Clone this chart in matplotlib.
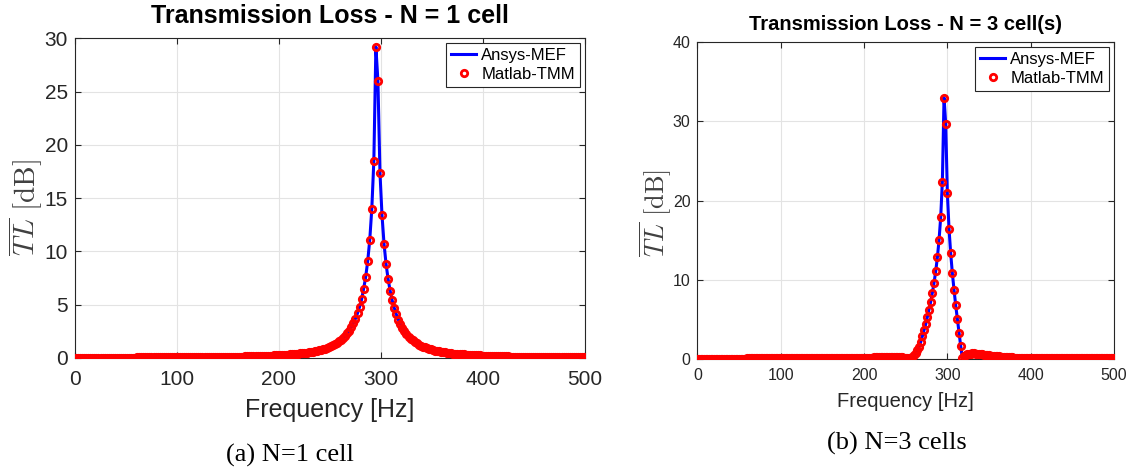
import numpy as np
import matplotlib.pyplot as plt

plt.rcParams['font.family'] = ['Liberation Sans', 'DejaVu Sans']
plt.rcParams['mathtext.fontset'] = 'cm'

# frequency grids [Hz]
freq_1 = np.arange(1, 500, 2)
freq_3 = np.arange(0, 501, 2)

# TL [dB], N = 1 cell
tl_1 = [
    0.03, 0.03, 0.03, 0.03, 0.03, 0.03, 0.03, 0.03, 0.03, 0.03,
    0.03, 0.03, 0.03, 0.04, 0.04, 0.04, 0.04, 0.04, 0.04, 0.04,
    0.04, 0.04, 0.04, 0.04, 0.04, 0.04, 0.04, 0.04, 0.04, 0.04,
    0.05, 0.05, 0.05, 0.05, 0.05, 0.05, 0.05, 0.05, 0.05, 0.05,
    0.05, 0.05, 0.06, 0.06, 0.06, 0.06, 0.06, 0.06, 0.06, 0.06,
    0.07, 0.07, 0.07, 0.07, 0.07, 0.07, 0.07, 0.08, 0.08, 0.08,
    0.08, 0.08, 0.08, 0.09, 0.09, 0.09, 0.09, 0.10, 0.10, 0.10,
    0.10, 0.11, 0.11, 0.11, 0.12, 0.12, 0.12, 0.13, 0.13, 0.13,
    0.14, 0.14, 0.14, 0.15, 0.15, 0.16, 0.16, 0.17, 0.17, 0.18,
    0.19, 0.19, 0.20, 0.21, 0.21, 0.22, 0.23, 0.24, 0.25, 0.26,
    0.27, 0.28, 0.29, 0.31, 0.32, 0.34, 0.35, 0.37, 0.39, 0.41,
    0.43, 0.45, 0.47, 0.50, 0.53, 0.56, 0.59, 0.63, 0.67, 0.72,
    0.77, 0.82, 0.88, 0.94, 1.02, 1.10, 1.19, 1.30, 1.41, 1.55,
    1.70, 1.87, 2.07, 2.30, 2.57, 2.89, 3.26, 3.70, 4.20, 4.80,
    5.50, 6.50, 7.60, 9.10, 11.1, 14.0, 18.5, 29.2, 26.0, 17.4,
    13.4, 10.7, 8.80, 7.40, 6.30, 5.40, 4.70, 4.10, 3.60, 3.20,
    2.79, 2.49, 2.23, 2.01, 1.82, 1.65, 1.51, 1.38, 1.26, 1.16,
    1.07, 1.00, 0.92, 0.86, 0.80, 0.75, 0.70, 0.66, 0.62, 0.58,
    0.55, 0.52, 0.49, 0.47, 0.44, 0.42, 0.40, 0.38, 0.36, 0.35,
    0.33, 0.32, 0.30, 0.29, 0.28, 0.27, 0.26, 0.25, 0.24, 0.23,
    0.22, 0.21, 0.20, 0.20, 0.19, 0.18, 0.18, 0.17, 0.17, 0.16,
    0.16, 0.15, 0.15, 0.14, 0.14, 0.14, 0.13, 0.13, 0.12, 0.12,
    0.12, 0.11, 0.11, 0.11, 0.10, 0.10, 0.10, 0.10, 0.09, 0.09,
    0.09, 0.09, 0.09, 0.08, 0.08, 0.08, 0.08, 0.08, 0.07, 0.07,
    0.07, 0.07, 0.07, 0.07, 0.07, 0.06, 0.06, 0.06, 0.06, 0.06,
]

# TL [dB], N = 3 cells
tl_3 = [
    0.02, 0.02, 0.02, 0.02, 0.02, 0.02, 0.02, 0.02, 0.02, 0.02,
    0.02, 0.02, 0.02, 0.02, 0.02, 0.02, 0.02, 0.02, 0.02, 0.02,
    0.02, 0.02, 0.02, 0.02, 0.02, 0.02, 0.02, 0.02, 0.02, 0.02,
    0.03, 0.03, 0.03, 0.03, 0.03, 0.03, 0.03, 0.03, 0.03, 0.03,
    0.03, 0.03, 0.03, 0.03, 0.03, 0.03, 0.03, 0.03, 0.03, 0.03,
    0.04, 0.04, 0.04, 0.04, 0.04, 0.04, 0.04, 0.04, 0.04, 0.04,
    0.04, 0.04, 0.04, 0.04, 0.04, 0.04, 0.04, 0.04, 0.04, 0.04,
    0.05, 0.05, 0.05, 0.05, 0.05, 0.05, 0.05, 0.05, 0.05, 0.05,
    0.06, 0.06, 0.06, 0.07, 0.07, 0.07, 0.08, 0.08, 0.08, 0.09,
    0.09, 0.09, 0.10, 0.10, 0.10, 0.11, 0.11, 0.12, 0.12, 0.12,
    0.13, 0.13, 0.14, 0.14, 0.15, 0.15, 0.16, 0.16, 0.17, 0.17,
    0.18, 0.18, 0.19, 0.19, 0.20, 0.20, 0.21, 0.21, 0.21, 0.21,
    0.21, 0.20, 0.19, 0.17, 0.14, 0.11, 0.07, 0.04, 0.06, 0.22,
    0.45, 0.75, 1.10, 1.50, 2.10, 2.85, 3.60, 4.35, 5.30, 6.20,
    7.20, 8.35, 9.60, 11.05, 12.8, 15.0, 17.9, 22.4, 33.0, 29.7,
    20.9, 16.4, 13.3, 10.8, 8.70, 6.75, 5.00, 3.30, 1.60, 0.10,
    0.30, 0.45, 0.55, 0.61, 0.64, 0.66, 0.66, 0.65, 0.63, 0.61,
    0.58, 0.55, 0.52, 0.49, 0.46, 0.43, 0.40, 0.37, 0.35, 0.32,
    0.30, 0.28, 0.26, 0.24, 0.22, 0.21, 0.19, 0.18, 0.17, 0.16,
    0.15, 0.14, 0.13, 0.12, 0.12, 0.11, 0.10, 0.10, 0.09, 0.09,
    0.09, 0.08, 0.08, 0.08, 0.07, 0.07, 0.07, 0.07, 0.06, 0.06,
    0.06, 0.06, 0.06, 0.06, 0.06, 0.06, 0.06, 0.06, 0.06, 0.06,
    0.05, 0.05, 0.05, 0.05, 0.05, 0.05, 0.05, 0.05, 0.05, 0.05,
    0.05, 0.05, 0.05, 0.05, 0.05, 0.05, 0.05, 0.05, 0.05, 0.05,
    0.05, 0.05, 0.05, 0.05, 0.05, 0.05, 0.05, 0.05, 0.05, 0.05,
    0.05,
]

xticks = [0, 100, 200, 300, 400, 500]
yticks_1 = [0, 5, 10, 15, 20, 25, 30]
yticks_3 = [0, 10, 20, 30, 40]

dark = '#262626'

fig = plt.figure(figsize=(11.33, 4.70), dpi=100)
ax1 = fig.add_axes([0.0662, 0.2383, 0.4501, 0.6802])
ax2 = fig.add_axes([0.6156, 0.2368, 0.3676, 0.6732])


def style_panel(ax, freq, tl, yticks, title, fs_tick, fs_lab, fs_title, fs_ylab,
                title_pad, tick_pad, lab_pad, ylab_x, ylab_y):
    ax.plot(freq, tl, color='blue', lw=2.2, label='Ansys-MEF', zorder=3)
    ax.plot(freq, tl, ls='none', marker='o', ms=4.6, mew=2.0,
            mfc='none', mec='red', label='Matlab-TMM', zorder=4)
    ax.set_xlim(0, 500)
    ax.set_ylim(yticks[0], yticks[-1])
    ax.set_xticks(xticks)
    ax.set_yticks(yticks)
    ax.grid(True, color='#e3e3e3', lw=0.8)
    ax.set_axisbelow(True)
    for s in ax.spines.values():
        s.set_color(dark)
        s.set_linewidth(0.8)
    ax.tick_params(direction='in', top=True, right=True, length=4,
                   width=0.8, color=dark, labelcolor=dark, labelsize=fs_tick)
    ax.tick_params(axis='x', pad=tick_pad)
    ax.tick_params(axis='y', pad=5)
    ax.set_xlabel('Frequency [Hz]', fontsize=fs_lab, color=dark, labelpad=lab_pad)
    ax.set_ylabel(r'$\overline{TL}\ \mathrm{[dB]}$', fontsize=fs_ylab, color='#404040')
    ax.yaxis.set_label_coords(ylab_x, ylab_y)
    ax.set_title(title, fontsize=fs_title, fontweight='bold', color='black', pad=title_pad)
    leg = ax.legend(loc='upper right', fontsize=12, fancybox=False, framealpha=1,
                    edgecolor=dark, handlelength=1.5, handletextpad=0.3,
                    borderpad=0.3, labelspacing=0.2, borderaxespad=0.3)
    leg.get_frame().set_linewidth(0.8)
    for t in leg.get_texts():
        t.set_color('black')


style_panel(ax1, freq_1, tl_1, yticks_1, 'Transmission Loss - N = 1 cell',
            15, 18, 18, 21, 11, 9, 6, -0.058, 0.47)
style_panel(ax2, freq_3, tl_3, yticks_3, 'Transmission Loss - N = 3 cell(s)',
            11.5, 14.5, 14.5, 19, 9, 7, 6, -0.057, 0.46)

fig.text(0.256, 0.032, '(a) N=1 cell', ha='center', va='center',
         fontsize=19, family='Liberation Serif')
fig.text(0.792, 0.057, '(b) N=3 cells', ha='center', va='center',
         fontsize=19, family='Liberation Serif')

fig.savefig('out.png', dpi=100)
